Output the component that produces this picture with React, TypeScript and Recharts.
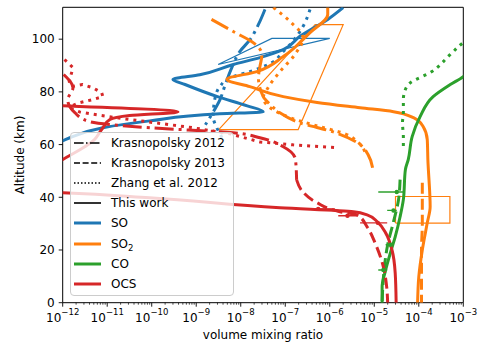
import React from "react";
import { ComposedChart, Line, XAxis, YAxis, ReferenceArea, Legend, Label } from "recharts";

type Pt = [number, number]; // [volume mixing ratio, altitude km]

// SO
const soThisWork: Pt[] = [
  [2e-6, 112], [9e-7, 107.5], [2.1e-7, 101], [9e-8, 96], [2.7e-8, 93], [6.8e-9, 90.4],
  [1.2e-9, 86.5], [3e-10, 84.7], [5.6e-10, 82.8], [3e-9, 78.2], [1.4e-8, 74.7], [3.2e-8, 72.4],
  [3.4e-9, 71.7], [9e-11, 69], [8e-12, 66.4], [1.45e-12, 62.6], [6.6e-13, 60],
];
const soKras2012: Pt[] = [
  [3.5e-8, 111.3], [2.5e-8, 105.6], [1.6e-8, 99.7], [9.5e-9, 95.3], [6.3e-9, 89.2],
  [4.5e-9, 82.8], [3.4e-9, 77], [2.2e-9, 71.3], [1.6e-9, 67.5],
];
const soZhang2012: Pt[] = [
  [3.6e-7, 111.3], [2.5e-7, 104.8], [1.4e-7, 98.7], [8.5e-8, 94.9], [5e-8, 91.1], [1.6e-8, 87.7],
  [5.8e-9, 85.4], [3.4e-9, 82], [2.6e-9, 77], [2.4e-9, 70.6], [2.9e-9, 66.4], [3.8e-9, 62.6],
];
const soObs: Pt[] = [[3.1e-9, 90.4], [5e-8, 100.3], [1e-6, 100.3], [3.1e-9, 90.4]];

// SO2
const so2ThisWork: Pt[] = [
  [9e-7, 112], [9e-7, 109.4], [3.6e-7, 102.5], [9e-8, 93.4], [2.3e-8, 87.7], [4.9e-9, 84.7],
  [1.6e-8, 82], [9e-8, 78.2], [5.2e-7, 76], [4.8e-6, 74], [2.7e-5, 72.5], [7.6e-5, 70.2],
  [1.26e-4, 66.8], [1.55e-4, 61.9], [1.6e-4, 54.3], [1.8e-4, 36.4], [1.55e-4, 30.3],
  [1.2e-4, 20], [1e-4, 9.8], [9.4e-5, 0],
];
const so2Kras2012: Pt[] = [
  [2.2e-9, 107.5], [6.8e-9, 102.9], [1.9e-8, 98.7], [3e-8, 94.2], [2.7e-8, 89.6], [2.5e-8, 85.4],
  [3.2e-8, 78.2], [4.6e-8, 75.2], [7.6e-8, 72.1], [2.1e-7, 68.3], [1.2e-6, 64.8], [4.2e-6, 60.7],
  [7.3e-6, 56.1], [9.5e-6, 49.6],
];
const so2Kras2013: Pt[] = [[1.2e-4, 45.5], [1.2e-4, 30], [1.15e-4, 20], [1.15e-4, 0]];
const so2Zhang2012: Pt[] = [
  [5.4e-8, 112], [1.3e-7, 106.6], [2.5e-7, 100.5], [1.65e-7, 94.2], [7.6e-8, 87.7], [4.1e-8, 81.6],
  [3.2e-8, 77.8], [5.4e-8, 73.2], [1.3e-7, 70.2], [6e-7, 66.8], [2.2e-6, 64.1], [4.4e-6, 60.7],
  [6.6e-6, 56.1],
];
const so2ObsUpper: Pt[] = [[3.2e-9, 65.7], [4.7e-7, 105.5], [2e-6, 105.5], [1.95e-7, 65.7], [3.2e-9, 65.7]];
const so2ObsLower: Pt[] = [[3e-5, 30.2], [5e-4, 30.2], [5e-4, 40.3], [3e-5, 40.3], [3e-5, 30.2]];

// CO
const coThisWork: Pt[] = [
  [1.6e-3, 90], [1e-3, 85.8], [5.1e-4, 82.8], [2.1e-4, 78.2], [1.07e-4, 70.6], [7.1e-5, 63],
  [5.8e-5, 54.3], [5e-5, 50.5], [4.5e-5, 39.1], [3.8e-5, 32.6], [2.95e-5, 25], [2.3e-5, 18.9],
  [1.8e-5, 12.4], [1.5e-5, 6], [1.5e-5, 0],
];
const coKras2013: Pt[] = [[3.8e-5, 46.7], [3.5e-5, 39], [2.7e-5, 30.7], [2e-5, 22], [1.66e-5, 12.4], [1.5e-5, 0]];
const coZhang2012: Pt[] = [
  [1.9e-3, 101.7], [1e-3, 98.7], [5.1e-4, 94.2], [1.8e-4, 87.3], [6.5e-5, 83.5], [5e-5, 80.9],
  [4.5e-5, 77.1], [4.5e-5, 72.1], [4.3e-5, 68.3], [4.5e-5, 63], [4.5e-5, 58.8],
];

// OCS
const ocsThisWork: Pt[] = [
  [3.2e-13, 75], [1e-12, 74.7], [3.9e-10, 72.4], [3.2e-11, 71], [1.15e-11, 69.5], [8e-12, 66.4],
  [5.2e-12, 61.9], [5e-13, 50.5], [3.2e-13, 42], [1e-12, 41.7], [9e-11, 39.8], [7.6e-8, 36],
  [3.4e-6, 34.5], [6.9e-6, 33.3], [1.17e-5, 30.7], [1.8e-5, 26.5], [2.5e-5, 20], [2.95e-5, 11.3],
  [3.1e-5, 0],
];
const ocsKras2012: Pt[] = [
  [1.05e-12, 86.6], [1.7e-12, 81.6], [1.3e-12, 77], [1.9e-12, 72], [4e-12, 68.7], [9e-11, 66.4],
  [6.8e-9, 64.5], [2.7e-8, 62.6], [9e-8, 59.2], [1.7e-7, 54.3], [1.8e-7, 46.6],
];
const ocsKras2013: Pt[] = [
  [1.8e-7, 46.6], [2.5e-7, 42], [5.2e-7, 37.9], [1.7e-6, 34.5], [4.1e-6, 33.3], [6.9e-6, 28.8],
  [1.04e-5, 22.7], [1.6e-5, 13.6], [1.9e-5, 6], [2e-5, 0],
];
const ocsZhang2012: Pt[] = [
  [1.1e-12, 92.3], [1.7e-12, 89.2], [1.4e-12, 83.9], [1.6e-12, 82], [2.8e-12, 82.8], [4.7e-12, 81.6],
  [7.5e-12, 79.7], [8e-12, 78.2], [4.5e-12, 77], [2.4e-12, 75.9], [1.6e-12, 74.7], [1.45e-12, 73.9],
  [2.4e-12, 72.4], [5.8e-12, 71.3], [1.6e-11, 70.2], [7.7e-11, 68.7], [8.4e-10, 66.4],
  [5.7e-9, 64.1], [2.7e-8, 61], [1.5e-7, 59.9], [1.5e-6, 58.8],
];

// measurements with ranges: [value, low, high, altitude]
const ocsObs: [number, number, number, number][] = [
  [5.5e-7, 2.1e-7, 1.3e-6, 35.6],
  [2.5e-6, 1.55e-6, 4.2e-6, 33],
  [1.2e-5, 4.8e-6, 1.95e-5, 30.3],
];
const coObs: [number, number, number, number][] = [
  [3.2e-5, 1.23e-5, 4.5e-5, 42],
  [2.7e-5, 1.95e-5, 3.2e-5, 35],
  [2.3e-5, 1.8e-5, 2.7e-5, 22],
  [1.6e-5, 1.23e-5, 1.95e-5, 12.4],
];

const xMajor = [1e-12, 1e-11, 1e-10, 1e-9, 1e-8, 1e-7, 1e-6, 1e-5, 1e-4, 1e-3];
const xMinor: number[] = [];
for (let e = -12; e < -3; e++) for (let k = 2; k <= 9; k++) xMinor.push(k * Math.pow(10, e));
const yTicks = [0, 20, 40, 60, 80, 100];

const C = { SO: "#1f77b4", SO2: "#ff7f0e", CO: "#2ca02c", OCS: "#d62728" };
const FONT = "DejaVu Sans, sans-serif";

const DASH: Record<string, string | undefined> = {
  solid: undefined,
  dashed: "11 5",
  dashdot: "19 5 3 5",
  dotted: "3 5",
};

// curve: profiles whose altitude only goes one way get a smooth curve along altitude
const profiles = [
  { key: "so_k12", pts: soKras2012, color: C.SO, style: "dashdot", curve: "monotoneY" },
  { key: "so_z12", pts: soZhang2012, color: C.SO, style: "dotted", curve: "monotoneY" },
  { key: "so_tw", pts: soThisWork, color: C.SO, style: "solid", curve: "monotoneY" },
  { key: "so2_k12", pts: so2Kras2012, color: C.SO2, style: "dashdot", curve: "monotoneY" },
  { key: "so2_k13", pts: so2Kras2013, color: C.SO2, style: "dashed", curve: "monotoneY" },
  { key: "so2_z12", pts: so2Zhang2012, color: C.SO2, style: "dotted", curve: "monotoneY" },
  { key: "so2_tw", pts: so2ThisWork, color: C.SO2, style: "solid", curve: "monotoneY" },
  { key: "co_k13", pts: coKras2013, color: C.CO, style: "dashed", curve: "monotoneY" },
  { key: "co_z12", pts: coZhang2012, color: C.CO, style: "dotted", curve: "monotoneY" },
  { key: "co_tw", pts: coThisWork, color: C.CO, style: "solid", curve: "monotoneY" },
  { key: "ocs_k12", pts: ocsKras2012, color: C.OCS, style: "dashdot", curve: "monotoneY" },
  { key: "ocs_k13", pts: ocsKras2013, color: C.OCS, style: "dashed", curve: "monotoneY" },
  { key: "ocs_z12", pts: ocsZhang2012, color: C.OCS, style: "dotted", curve: "linear" },
  { key: "ocs_tw", pts: ocsThisWork, color: C.OCS, style: "solid", curve: "monotoneY" },
];

const boxes = [
  { key: "so_box", pts: soObs, color: C.SO },
  { key: "so2_box1", pts: so2ObsUpper, color: C.SO2 },
  { key: "so2_box2", pts: so2ObsLower, color: C.SO2 },
];

const bars = [
  ...ocsObs.map((b, i) => ({ key: "ocs_bar" + i, b, color: C.OCS })),
  ...coObs.map((b, i) => ({ key: "co_bar" + i, b, color: C.CO })),
];

const toData = (pts: Pt[]) => pts.map(([x, y]) => ({ x, y }));

function XTick(props: any) {
  const { x, y, payload } = props;
  const v = payload.value;
  const e = Math.round(Math.log10(v));
  const major = Math.abs(v / Math.pow(10, e) - 1) < 1e-6;
  return (
    <g>
      <line x1={x} x2={x} y1={y} y2={y + (major ? 4 : 2)} stroke="#000" strokeWidth={major ? 0.9 : 0.7} />
      {major && (
        <text x={x} y={y + 19.3} textAnchor="middle" fontSize={12} fontFamily={FONT} fill="#000">
          <tspan>10</tspan>
          <tspan dy={-7} fontSize={8.5}>{"\u2212" + -e}</tspan>
        </text>
      )}
    </g>
  );
}

const legendRows = [
  { label: "Krasnopolsky 2012", color: "#000", dash: "9.6 2.4 1.5 2.4", w: 1.6 },
  { label: "Krasnopolsky 2013", color: "#000", dash: "6 2.6", w: 1.6 },
  { label: "Zhang et al. 2012", color: "#000", dash: "1.5 2", w: 1.4 },
  { label: "This work", color: "#000", dash: undefined, w: 1.6 },
  { label: "SO", color: C.SO, dash: undefined, w: 3 },
  { label: "SO2", color: C.SO2, dash: undefined, w: 3 },
  { label: "CO", color: C.CO, dash: undefined, w: 3 },
  { label: "OCS", color: C.OCS, dash: undefined, w: 3 },
];

function LegendBox() {
  return (
    <div
      style={{
        position: "relative",
        boxSizing: "border-box",
        width: 164,
        height: 164,
        border: "1px solid #cccccc",
        borderRadius: 4,
        background: "rgba(255,255,255,0.8)",
        fontFamily: FONT,
        fontSize: 12,
        color: "#000",
      }}
    >
      {legendRows.map((r, i) => (
        <div key={r.label} style={{ position: "absolute", left: 0, top: i * 20.2, height: 20, width: 160 }}>
          <svg width={30} height={20} style={{ position: "absolute", left: 0, top: 0 }}>
            <line x1={3} x2={30} y1={10} y2={10} stroke={r.color} strokeWidth={r.w} strokeDasharray={r.dash} />
          </svg>
          <span style={{ position: "absolute", left: 40, top: 2, lineHeight: "16px", whiteSpace: "nowrap" }}>
            {r.label === "SO2" ? (
              <>
                SO<sub style={{ fontSize: 8.5, verticalAlign: "-3px" }}>2</sub>
              </>
            ) : (
              r.label
            )}
          </span>
        </div>
      ))}
    </div>
  );
}

export default function App() {
  return (
    <div style={{ position: "absolute", left: 0, top: 0, width: 479, height: 343, background: "#fff" }}>
      <ComposedChart
        width={479}
        height={343}
        margin={{ top: 7.3, right: 15.7, left: 22.7, bottom: 0 }}
        style={{ fontFamily: FONT }}
      >
        <XAxis
          type="number"
          dataKey="x"
          scale="log"
          domain={[1e-12, 1e-3]}
          allowDataOverflow
          ticks={[...xMajor, ...xMinor]}
          interval={0}
          tick={<XTick />}
          tickLine={false}
          tickSize={0}
          tickMargin={0}
          axisLine={false}
          height={40.3}
        >
          <Label value="volume mixing ratio" position="insideBottom" offset={4} fill="#000" fontSize={12} fontFamily={FONT} />
        </XAxis>
        <YAxis
          type="number"
          domain={[0, 112.1]}
          allowDataOverflow
          ticks={yTicks}
          interval={0}
          tickSize={4}
          tickMargin={4}
          tickLine={{ stroke: "#000", strokeWidth: 0.9 }}
          axisLine={false}
          tick={{ fill: "#000", fontSize: 12, fontFamily: FONT }}
          width={40}
        >
          <Label value="Altitude (km)" angle={-90} position="center" dx={-23} fill="#000" fontSize={12} fontFamily={FONT} />
        </YAxis>

        {boxes.map((b) => (
          <Line
            key={b.key}
            data={toData(b.pts)}
            dataKey="y"
            type="linear"
            stroke={b.color}
            strokeWidth={1.2}
            dot={false}
            isAnimationActive={false}
          />
        ))}

        {profiles.map((p) => (
          <Line
            key={p.key}
            data={toData(p.pts)}
            dataKey="y"
            type={p.curve as any}
            stroke={p.color}
            strokeWidth={3}
            strokeDasharray={DASH[p.style]}
            strokeLinejoin="round"
            dot={false}
            isAnimationActive={false}
          />
        ))}

        {bars.map((m) => (
          <Line
            key={m.key}
            data={[
              { x: m.b[1], y: m.b[3] },
              { x: m.b[0], y: m.b[3] },
              { x: m.b[2], y: m.b[3] },
            ]}
            dataKey="y"
            type="linear"
            stroke={m.color}
            strokeWidth={1.3}
            dot={(d: any) =>
              d.index === 1 ? (
                <circle key={`${m.key}-d`} cx={d.cx} cy={d.cy} r={2.2} fill={m.color} stroke="none" />
              ) : (
                <g key={`${m.key}-n${d.index}`} />
              )
            }
            isAnimationActive={false}
          />
        ))}

        <ReferenceArea x1={1e-12} x2={1e-3} y1={0} y2={112.1} fill="none" stroke="#000" strokeWidth={1} />

        <Legend
          layout="vertical"
          align="center"
          verticalAlign="middle"
          wrapperStyle={{ left: 70, top: 131.7, width: 164, height: 164 }}
          content={() => <LegendBox />}
        />
      </ComposedChart>
    </div>
  );
}
